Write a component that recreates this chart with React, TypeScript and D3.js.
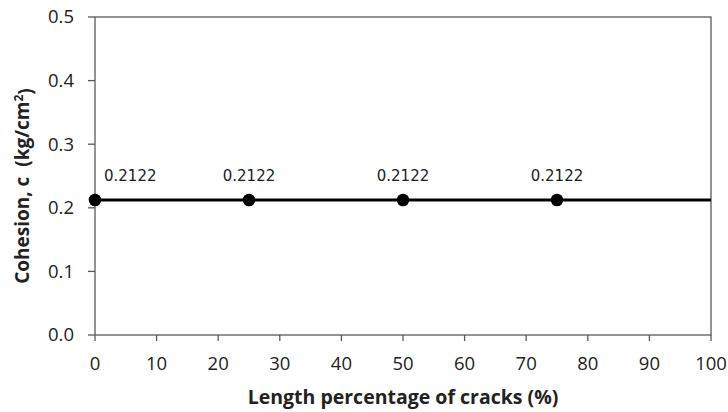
import React from "react";
import * as d3 from "d3";

const crackPercent = [0, 25, 50, 75];
const cohesion = [0.2122, 0.2122, 0.2122, 0.2122];
const lineExtent = [0, 100];
const xTicks = [0, 10, 20, 30, 40, 50, 60, 70, 80, 90, 100];
const yTicks = [0, 0.1, 0.2, 0.3, 0.4, 0.5];

const W = 728;
const H = 412;
const margin = { left: 95, right: 17, top: 17, bottom: 77 };
const FONT = "'Open Sans', sans-serif";
const LABEL_FONT = "'DejaVu Sans', sans-serif";
const AXIS = "#595959";

export default function App() {
  const x = d3.scaleLinear().domain([0, 100]).range([margin.left, W - margin.right]);
  const y = d3.scaleLinear().domain([0, 0.5]).range([H - margin.bottom, margin.top]);
  const line = d3
    .line<number>()
    .x((d) => x(d))
    .y(() => y(cohesion[0]));

  return (
    <svg
      width={W}
      height={H}
      style={{ position: "absolute", left: 0, top: 0, background: "#fff" }}
      fontFamily={FONT}
    >
      <rect x={0} y={0} width={W} height={H} fill="#fff" />
      {/* plot border */}
      <rect
        x={x(0)}
        y={y(0.5)}
        width={x(100) - x(0)}
        height={y(0) - y(0.5)}
        fill="none"
        stroke={AXIS}
        strokeWidth={1.3}
      />
      {/* y ticks */}
      {yTicks.map((t) => (
        <g key={"y" + t}>
          <line x1={x(0) - 7} x2={x(0)} y1={y(t)} y2={y(t)} stroke={AXIS} strokeWidth={1.3} />
          <text
            x={74}
            y={y(t)}
            dy="0.35em"
            textAnchor="end"
            fontSize={18.5}
            fill="#222"
          >
            {d3.format(".1f")(t)}
          </text>
        </g>
      ))}
      {/* x ticks */}
      {xTicks.map((t) => (
        <g key={"x" + t}>
          <line x1={x(t)} x2={x(t)} y1={y(0)} y2={y(0) + 6} stroke={AXIS} strokeWidth={1.3} />
          <text x={x(t)} y={y(0) + 28.5} dy="0.35em" textAnchor="middle" fontSize={18.5} fill="#222">
            {t}
          </text>
        </g>
      ))}
      {/* line */}
      <path d={line(lineExtent) || ""} fill="none" stroke="#000" strokeWidth={3} />
      {crackPercent.map((p, i) => (
        <g key={"p" + i}>
          <circle cx={x(p)} cy={y(cohesion[i])} r={6.3} fill="#000" />
          <text
            x={i === 0 ? x(p) + 9 : x(p)}
            y={y(cohesion[i]) - 24}
            dy="0.35em"
            textAnchor={i === 0 ? "start" : "middle"}
            fontSize={15}
            fontFamily={LABEL_FONT}
            fill="#222"
          >
            {cohesion[i].toFixed(4)}
          </text>
        </g>
      ))}
      {/* axis titles */}
      <text
        x={(x(0) + x(100)) / 2}
        y={404}
        textAnchor="middle"
        fontSize={19.5}
        fontWeight="bold"
        fill="#222"
      >
        Length percentage of cracks (%)
      </text>
      <text
        transform={`translate(22, ${(y(0) + y(0.5)) / 2 + 10}) rotate(-90)`}
        dy="0.35em"
        textAnchor="middle"
        fontSize={19}
        fontWeight="bold"
        fill="#222"
      >
        Cohesion, c&#160;&#160;(kg/cm
        <tspan dy="-0.45em" fontSize={12}>2</tspan>
        <tspan dy="0.45em">)</tspan>
      </text>
    </svg>
  );
}
